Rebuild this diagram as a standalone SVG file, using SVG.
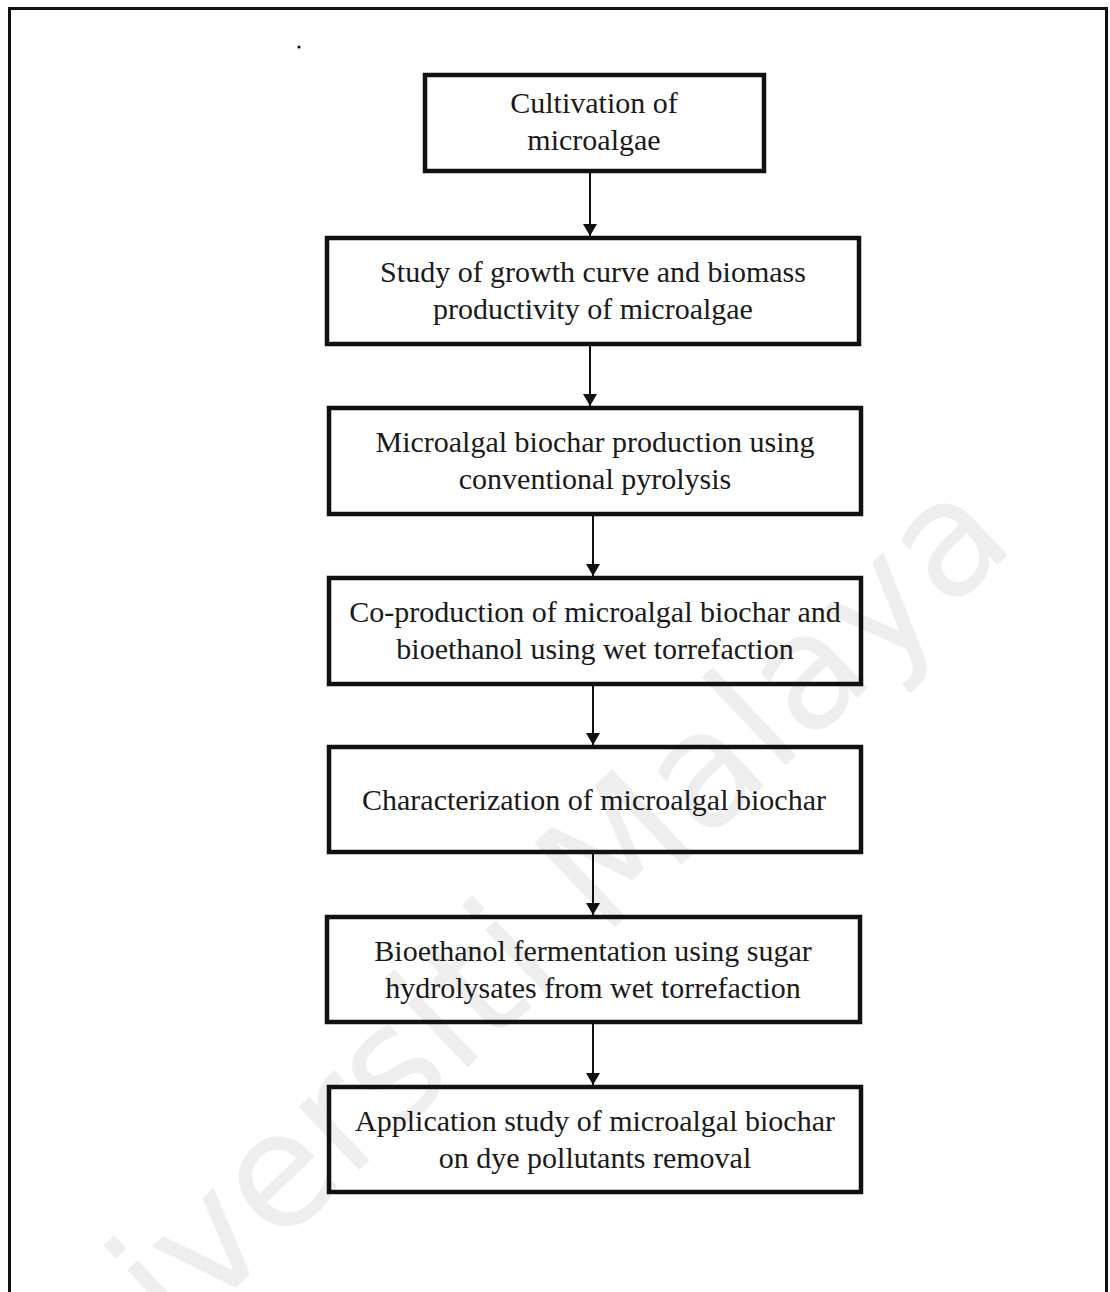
<svg xmlns="http://www.w3.org/2000/svg" width="1110" height="1292" viewBox="0 0 1110 1292">
<style>
.box{fill:none;stroke:#111;stroke-width:4.5}
.lbl{font-family:"Liberation Serif","Times New Roman",serif;font-size:30px;fill:#1a1a1a;text-anchor:middle}
.con{stroke:#111;stroke-width:2;fill:none}
.wm{font-family:"DejaVu Sans",Verdana,sans-serif;font-size:160px;fill:#eeeeee}
</style>
<defs>
<marker id="ah" viewBox="0 0 12 14" refX="12" refY="7" markerWidth="12" markerHeight="14" markerUnits="userSpaceOnUse" orient="auto">
<path d="M0,0 L12,7 L0,14 Z" fill="#111"/>
</marker>
</defs>
<rect x="0" y="0" width="1110" height="1292" fill="#fff"/>
<text class="wm" transform="translate(1018,545) rotate(-43.5)" text-anchor="end">Universiti Malaya</text>
<path d="M9.5,1292 V8.5 H1106.5 V1292" fill="none" stroke="#111" stroke-width="3"/>
<circle cx="299" cy="47" r="1.6" fill="#111"/>
<g id="connectors">
<line class="con" x1="590" y1="173" x2="590" y2="236" marker-end="url(#ah)"/>
<line class="con" x1="590" y1="346" x2="590" y2="406" marker-end="url(#ah)"/>
<line class="con" x1="593" y1="516" x2="593" y2="576" marker-end="url(#ah)"/>
<line class="con" x1="593" y1="686" x2="593" y2="745" marker-end="url(#ah)"/>
<line class="con" x1="593" y1="854" x2="593" y2="915" marker-end="url(#ah)"/>
<line class="con" x1="593" y1="1024" x2="593" y2="1085" marker-end="url(#ah)"/>
</g>
<g id="n1"><rect class="box" x="425" y="75" width="339" height="96"/>
<text class="lbl" x="594" y="113">Cultivation of</text><text class="lbl" x="594" y="150">microalgae</text></g>
<g id="n2"><rect class="box" x="327" y="238" width="532" height="106"/>
<text class="lbl" x="593" y="282">Study of growth curve and biomass</text><text class="lbl" x="593" y="319">productivity of microalgae</text></g>
<g id="n3"><rect class="box" x="329" y="408" width="532" height="106"/>
<text class="lbl" x="595" y="452">Microalgal biochar production using</text><text class="lbl" x="595" y="489">conventional pyrolysis</text></g>
<g id="n4"><rect class="box" x="329" y="578" width="532" height="106"/>
<text class="lbl" x="595" y="622">Co-production of microalgal biochar and</text><text class="lbl" x="595" y="659">bioethanol using wet torrefaction</text></g>
<g id="n5"><rect class="box" x="329" y="747" width="532" height="105"/>
<text class="lbl" x="594" y="810">Characterization of microalgal biochar</text></g>
<g id="n6"><rect class="box" x="327" y="917" width="533" height="105"/>
<text class="lbl" x="593" y="961">Bioethanol fermentation using sugar</text><text class="lbl" x="593" y="998">hydrolysates from wet torrefaction</text></g>
<g id="n7"><rect class="box" x="329" y="1087" width="532" height="105"/>
<text class="lbl" x="595" y="1131">Application study of microalgal biochar</text><text class="lbl" x="595" y="1168">on dye pollutants removal</text></g>
</svg>
